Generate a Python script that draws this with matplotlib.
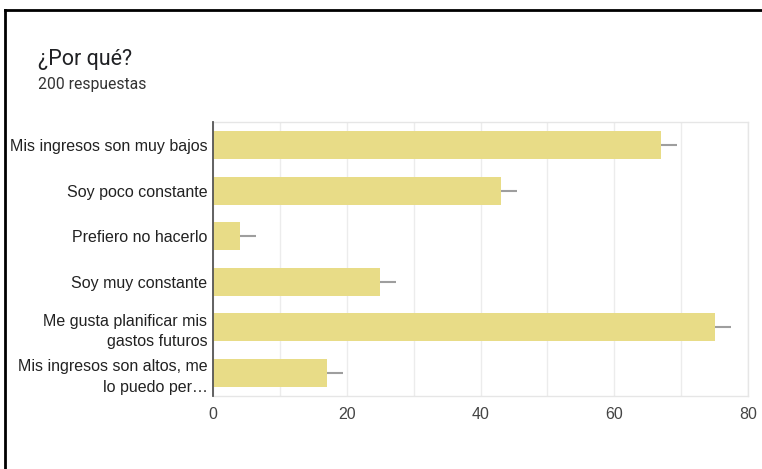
import matplotlib.pyplot as plt
from matplotlib.lines import Line2D

# survey answers (Google Forms style horizontal bar chart)
labels = [
    "Mis ingresos son muy bajos",
    "Soy poco constante",
    "Prefiero no hacerlo",
    "Soy muy constante",
    "Me gusta planificar mis\ngastos futuros",
    "Mis ingresos son altos, me\nlo puedo per\u2026",
]
counts = [67, 43, 4, 25, 75, 17]
err_len = [2.4] * len(counts)
xticks = [0, 20, 40, 60, 80]

title = "\u00bfPor qu\u00e9?"
subtitle = "200 respuestas"

W, H = 762, 469
fig = plt.figure(figsize=(W / 100, H / 100), dpi=100)
ax = fig.add_axes([213 / W, 1 - 395.5 / H, (748 - 213) / W, (395.5 - 122.5) / H])

pos = list(range(len(labels)))
ax.barh(pos, counts, height=0.62, color="#e8dc87", zorder=2)
ax.errorbar(counts, pos, xerr=[[0] * len(counts), err_len], fmt="none",
            ecolor="#9e9e9e", elinewidth=1.5, capsize=0, zorder=3)

ax.set_ylim(len(labels) - 0.5, -0.5)
ax.set_xlim(0, 80)
ax.set_yticks(pos)
ax.set_yticklabels(labels, fontsize=11.5, family="Liberation Sans",
                   color="#222222", linespacing=1.45)
ax.set_xticks(xticks)
ax.set_xticklabels([str(t) for t in xticks], fontsize=11.5,
                   family="Liberation Sans", color="#444444")
ax.set_xticks(range(0, 81, 10), minor=True)
ax.tick_params(axis="both", which="both", length=0, pad=4)
ax.tick_params(axis="x", pad=8)
ax.grid(axis="x", which="both", color="#ececec", lw=1, zorder=0)

for side in ["top", "right", "bottom"]:
    ax.spines[side].set_color("#e6e6e6")
    ax.spines[side].set_linewidth(1)
ax.spines["left"].set_color("#555555")
ax.spines["left"].set_linewidth(1.3)
ax.spines["left"].set_zorder(4)

fig.text(38 / W, 1 - 59 / H, title, fontsize=15.5, family="Roboto",
         color="#202124", va="center", ha="left")
fig.text(38 / W, 1 - 85 / H, subtitle, fontsize=11.3, family="Roboto",
         color="#333333", va="center", ha="left")

# black frame of the screenshot (top and left edges only)
fig.add_artist(Line2D([5 / W, 1], [1 - 10 / H, 1 - 10 / H],
                      transform=fig.transFigure, color="black", lw=2))
fig.add_artist(Line2D([5 / W, 5 / W], [0, 1 - 10 / H],
                      transform=fig.transFigure, color="black", lw=2))

fig.savefig("out.png", dpi=100)
